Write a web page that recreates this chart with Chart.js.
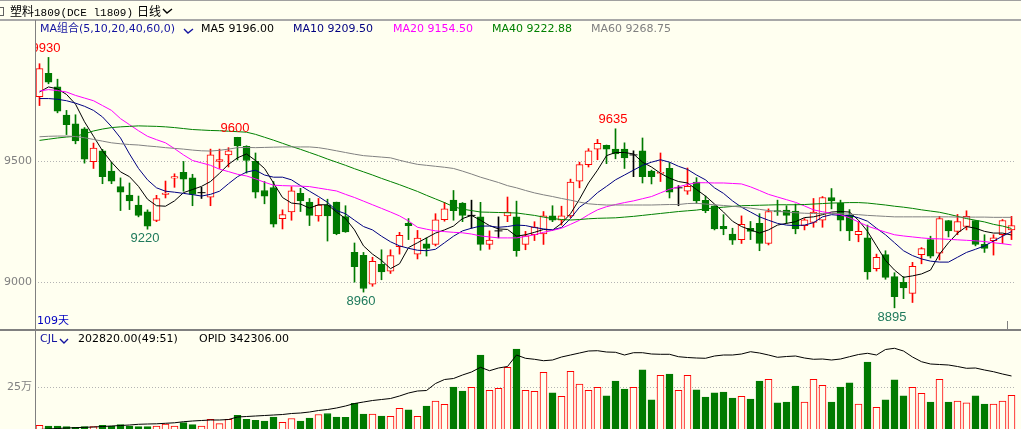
<!DOCTYPE html>
<html lang="zh-CN">
<head>
<meta charset="utf-8">
<title>塑料1809 日线</title>
<script src="https://cdn.jsdelivr.net/npm/chart.js@4.4.1/dist/chart.umd.min.js"></script>
<style>
  html, body { margin: 0; padding: 0; background: #fffff0; overflow: hidden; }
  #stage {
    position: relative; width: 1021px; height: 429px; overflow: hidden; background: #fffff0;
    font-family: 'DejaVu Sans', 'Noto Sans CJK SC', sans-serif; font-size: 11px;
  }
  #stage canvas { position: absolute; left: 0; }
  .txt { position: absolute; line-height: 14px; white-space: nowrap; }
  .rule { position: absolute; background: #808080; }
  svg.chev { position: absolute; }
</style>
</head>
<body>
<div id="stage">
  <canvas id="priceChart" width="1021" height="310" style="top:20px"></canvas>
  <canvas id="volChart" width="1021" height="101" style="top:330px"></canvas>

  <div class="rule" style="left:0;top:0;width:1021px;height:1px;background:#a0a0a0"></div>
  <div class="rule" style="left:0;top:19px;width:1021px;height:2px;background:#a8a8a8"></div>
  <div class="rule" style="left:35px;top:20px;width:1px;height:409px"></div>
  <div class="rule" style="left:0;top:329px;width:1021px;height:2px"></div>
  <div class="rule" style="left:1007px;top:321px;width:1px;height:9px"></div>
  <div class="rule" style="left:-5px;top:7px;width:7px;height:7px;background:none;border:1px solid #606060"></div>

  <!-- header -->
  <div class="txt" style="left:10px;top:4px;font-size:12px;color:#000">
    <span style="font-family:'Noto Sans CJK SC'">塑料</span><span style="font-family:'Liberation Mono';font-size:11px">1809(DCE l1809)</span>
  </div>
  <div class="txt" style="left:137px;top:4px;font-size:12px;font-family:'Noto Sans CJK SC'">日线</div>
  <svg class="chev" style="left:162px;top:8px" width="11" height="7"><polyline points="1,1 5,5 10,1" fill="none" stroke="#000" stroke-width="1.4"/></svg>

  <!-- MA legend -->
  <div class="txt" style="left:40px;top:22px;color:#1414a0">MA组合(5,10,20,40,60,0)</div>
  <svg class="chev" style="left:183px;top:28px" width="11" height="7"><polyline points="1,1 5,5 10,1" fill="none" stroke="#1414a0" stroke-width="1.4"/></svg>
  <div class="txt" style="left:201px;top:22px;color:#000">MA5 9196.00</div>
  <div class="txt" style="left:293px;top:22px;color:#000080">MA10 9209.50</div>
  <div class="txt" style="left:393px;top:22px;color:#ff00ff">MA20 9154.50</div>
  <div class="txt" style="left:492px;top:22px;color:#008000">MA40 9222.88</div>
  <div class="txt" style="left:591px;top:22px;color:#808080">MA60 9268.75</div>

  <div class="txt" style="left:37px;top:314px;color:#0000c0">109天</div>

  <!-- volume legend -->
  <div class="txt" style="left:40px;top:332px;color:#1414a0">CJL</div>
  <svg class="chev" style="left:59px;top:338px" width="10" height="6"><polyline points="1,1 5,5 9,1" fill="none" stroke="#1414a0" stroke-width="1.4"/></svg>
  <div class="txt" style="left:78px;top:332px;color:#000">202820.00(49:51)</div>
  <div class="txt" style="left:199px;top:332px;color:#000">OPID 342306.00</div>
</div>

<script>
// daily bars, oldest first
const open = [9768, 9864, 9808, 9692, 9656, 9635, 9499, 9544, 9460, 9396,
  9361, 9320, 9292, 9256, 9364, 9431, 9455, 9432, 9371, 9352,
  9500, 9527, 9600, 9563, 9500, 9380, 9392, 9263, 9291, 9368,
  9332, 9275, 9320, 9332, 9272, 9124, 9112, 8993, 9075, 9047,
  9148, 9244, 9117, 9160, 9157, 9259, 9340, 9328, 9277, 9271,
  9157, 9213, 9275, 9271, 9157, 9197, 9200, 9275, 9257, 9275,
  9419, 9487, 9551, 9567, 9551, 9551, 9527, 9544, 9460, 9451,
  9472, 9391, 9377, 9415, 9339, 9317, 9232, 9200, 9177, 9224,
  9244, 9161, 9297, 9299, 9295, 9235, 9248, 9257, 9351, 9327,
  9277, 9197, 9184, 9057, 9115, 9024, 9000, 8955, 9115, 9177,
  9121, 9256, 9211, 9231, 9256, 9157, 9173, 9197, 9217];
const high = [9904, 9930, 9840, 9711, 9693, 9640, 9576, 9550, 9497, 9432,
  9411, 9357, 9300, 9360, 9419, 9449, 9500, 9447, 9393, 9551,
  9551, 9557, 9600, 9565, 9535, 9417, 9417, 9300, 9396, 9389,
  9347, 9347, 9344, 9332, 9317, 9163, 9124, 9104, 9135, 9135,
  9207, 9264, 9215, 9184, 9284, 9331, 9380, 9330, 9340, 9331,
  9213, 9271, 9353, 9336, 9211, 9251, 9293, 9317, 9315, 9427,
  9497, 9553, 9591, 9568, 9635, 9577, 9544, 9597, 9464, 9535,
  9495, 9400, 9473, 9433, 9357, 9317, 9280, 9224, 9275, 9252,
  9284, 9304, 9340, 9317, 9324, 9264, 9347, 9355, 9388, 9340,
  9301, 9251, 9237, 9117, 9131, 9040, 9024, 9083, 9144, 9191,
  9273, 9256, 9281, 9296, 9256, 9197, 9197, 9260, 9273];
const low = [9731, 9821, 9701, 9611, 9573, 9493, 9471, 9408, 9408, 9297,
  9301, 9271, 9220, 9251, 9349, 9393, 9377, 9317, 9347, 9317,
  9471, 9477, 9506, 9452, 9349, 9325, 9229, 9221, 9257, 9293,
  9235, 9253, 9171, 9197, 9207, 9001, 8960, 8984, 9011, 9037,
  9117, 9177, 9097, 9109, 9151, 9253, 9257, 9251, 9224, 9133,
  9137, 9184, 9251, 9108, 9135, 9173, 9157, 9251, 9237, 9268,
  9391, 9477, 9507, 9491, 9511, 9471, 9437, 9411, 9407, 9417,
  9349, 9317, 9364, 9327, 9288, 9217, 9197, 9157, 9161, 9177,
  9131, 9155, 9277, 9244, 9201, 9217, 9228, 9228, 9304, 9213,
  9173, 9168, 9013, 9047, 9013, 8895, 8933, 8917, 9077, 9101,
  9093, 9188, 9197, 9217, 9151, 9124, 9113, 9161, 9177];
const close = [9884, 9828, 9708, 9652, 9585, 9509, 9555, 9437, 9419, 9373,
  9337, 9277, 9233, 9347, 9369, 9437, 9427, 9364, 9371, 9527,
  9508, 9544, 9564, 9504, 9373, 9357, 9241, 9280, 9379, 9337,
  9277, 9320, 9275, 9201, 9209, 9065, 8975, 9087, 9043, 9111,
  9195, 9235, 9183, 9141, 9259, 9304, 9297, 9277, 9277, 9157,
  9175, 9213, 9291, 9131, 9193, 9229, 9275, 9257, 9275, 9415,
  9487, 9544, 9575, 9551, 9531, 9515, 9527, 9437, 9437, 9455,
  9373, 9391, 9397, 9337, 9297, 9221, 9221, 9175, 9240, 9211,
  9161, 9293, 9291, 9277, 9221, 9259, 9291, 9351, 9337, 9257,
  9213, 9211, 9043, 9104, 9021, 8941, 8977, 9067, 9140, 9108,
  9264, 9213, 9251, 9273, 9157, 9141, 9184, 9256, 9235];

// moving averages as drawn
const ma5 = [9787, 9808, 9800, 9777, 9737, 9664, 9604, 9544, 9497, 9457,
  9437, 9397, 9344, 9317, 9315, 9337, 9371, 9384, 9397, 9417,
  9451, 9488, 9515, 9531, 9504, 9471, 9411, 9351, 9328, 9324,
  9307, 9321, 9321, 9291, 9264, 9217, 9151, 9117, 9091, 9057,
  9077, 9144, 9164, 9184, 9204, 9217, 9233, 9264, 9277, 9257,
  9235, 9221, 9219, 9191, 9197, 9207, 9219, 9216, 9244, 9284,
  9344, 9411, 9464, 9524, 9537, 9537, 9531, 9497, 9477, 9451,
  9431, 9417, 9411, 9384, 9357, 9324, 9291, 9253, 9231, 9217,
  9204, 9217, 9237, 9244, 9251, 9268, 9271, 9280, 9291, 9293,
  9291, 9257, 9211, 9151, 9091, 9051, 9021, 9027, 9035, 9051,
  9117, 9164, 9204, 9231, 9224, 9211, 9204, 9204, 9196];
const ma10 = [9760, 9760, 9757, 9751, 9741, 9728, 9711, 9684, 9644, 9597,
  9531, 9471, 9424, 9391, 9377, 9373, 9368, 9363, 9357, 9364,
  9377, 9408, 9437, 9456, 9464, 9444, 9435, 9435, 9424, 9400,
  9377, 9355, 9331, 9297, 9284, 9257, 9231, 9217, 9191, 9168,
  9151, 9141, 9133, 9131, 9137, 9164, 9191, 9213, 9224, 9233,
  9233, 9228, 9231, 9237, 9235, 9227, 9221, 9217, 9227, 9264,
  9311, 9337, 9371, 9397, 9424, 9444, 9464, 9484, 9497, 9507,
  9497, 9480, 9467, 9444, 9424, 9391, 9368, 9337, 9311, 9291,
  9271, 9257, 9244, 9237, 9235, 9237, 9247, 9271, 9280, 9277,
  9277, 9267, 9253, 9224, 9197, 9164, 9131, 9111, 9097, 9088,
  9084, 9084, 9104, 9124, 9137, 9151, 9171, 9191, 9210];
const ma20 = [9791, 9797, 9793, 9787, 9773, 9762, 9751, 9731, 9711, 9677,
  9652, 9627, 9604, 9590, 9577, 9553, 9527, 9504, 9494, 9484,
  9468, 9458, 9447, 9440, 9428, 9414, 9402, 9400, 9399, 9398,
  9396, 9390, 9384, 9378, 9364, 9351, 9336, 9321, 9306, 9291,
  9275, 9254, 9228, 9220, 9213, 9210, 9207, 9205, 9200, 9192,
  9188, 9184, 9184, 9184, 9190, 9197, 9207, 9215, 9224, 9240,
  9257, 9280, 9300, 9313, 9322, 9330, 9337, 9346, 9355, 9370,
  9385, 9395, 9405, 9412, 9412, 9411, 9411, 9409, 9407, 9395,
  9380, 9364, 9353, 9342, 9331, 9316, 9300, 9292, 9286, 9280,
  9267, 9250, 9233, 9220, 9208, 9197, 9192, 9188, 9184, 9181,
  9180, 9178, 9176, 9174, 9172, 9169, 9164, 9160, 9155];
const ma40 = [9587, 9592, 9597, 9601, 9604, 9614, 9626, 9634, 9640, 9643,
  9645, 9647, 9646, 9645, 9643, 9640, 9636, 9632, 9630, 9628,
  9627, 9625, 9623, 9621, 9612, 9600, 9588, 9575, 9562, 9550,
  9537, 9524, 9510, 9497, 9484, 9470, 9457, 9444, 9430, 9417,
  9404, 9390, 9376, 9360, 9345, 9330, 9313, 9303, 9297, 9291,
  9290, 9289, 9288, 9287, 9282, 9277, 9270, 9264, 9260, 9258,
  9260, 9263, 9265, 9266, 9267, 9270, 9273, 9277, 9281, 9285,
  9289, 9293, 9296, 9299, 9304, 9308, 9311, 9314, 9317, 9318,
  9319, 9320, 9321, 9321, 9321, 9322, 9324, 9326, 9328, 9329,
  9330, 9330, 9328, 9324, 9320, 9315, 9311, 9306, 9300, 9295,
  9290, 9282, 9273, 9264, 9257, 9250, 9240, 9233, 9223];
const ma60 = [9602, 9604, 9605, 9605, 9603, 9598, 9591, 9584, 9577, 9573,
  9570, 9568, 9564, 9561, 9557, 9554, 9551, 9547, 9544, 9543,
  9546, 9551, 9557, 9558, 9557, 9558, 9559, 9560, 9560, 9560,
  9560, 9557, 9551, 9544, 9537, 9530, 9524, 9521, 9518, 9515,
  9505, 9496, 9488, 9484, 9480, 9476, 9471, 9460, 9448, 9435,
  9424, 9413, 9400, 9391, 9380, 9370, 9362, 9355, 9347, 9340,
  9332, 9325, 9322, 9320, 9320, 9320, 9320, 9320, 9320, 9321,
  9322, 9322, 9326, 9327, 9324, 9321, 9318, 9315, 9311, 9307,
  9302, 9297, 9294, 9291, 9288, 9286, 9285, 9285, 9285, 9284,
  9282, 9280, 9277, 9275, 9273, 9271, 9271, 9271, 9271, 9271,
  9271, 9271, 9270, 9270, 9270, 9270, 9269, 9269, 9269];

// volume (CJL) and open interest (OPID)
const vol = [32300, 28500, 28500, 24700, 20900, 24700, 24700, 32000, 28500, 36000,
  28500, 24700, 24700, 28500, 40000, 28500, 47500, 36000, 28500, 66500,
  41800, 66500, 89000, 66000, 61000, 56000, 80000, 49000, 71000, 56000,
  73000, 94000, 100000, 80000, 78000, 158000, 97000, 97000, 85500, 83600,
  129000, 120000, 83600, 142500, 171000, 152000, 251000, 228000, 249000, 433000,
  232000, 243000, 363000, 467000, 232000, 226000, 334000, 217000, 198000, 340000,
  268000, 232000, 249000, 200000, 285000, 239000, 249000, 348000, 177000, 317000,
  325000, 232000, 317000, 234000, 194000, 217000, 222000, 188000, 198000, 182000,
  285000, 295000, 160000, 165000, 256000, 165000, 295000, 260000, 165000, 251000,
  274000, 154000, 393000, 135000, 177000, 291000, 200000, 249000, 215000, 165000,
  295000, 165000, 171000, 160000, 200000, 154000, 154000, 171000, 202820];
const opid = [160400, 162100, 163800, 165500, 166500, 167900, 168900, 170600, 172300, 174000,
  175700, 178100, 179100, 179800, 181500, 183200, 186900, 189300, 191000, 192700,
  192700, 194400, 202900, 204600, 206300, 208000, 209700, 211400, 214800, 216500,
  219900, 225000, 228400, 233500, 240300, 248800, 253900, 259000, 262400, 265800,
  274300, 284500, 291300, 293000, 316800, 330400, 333800, 345700, 355900, 371900,
  360300, 369500, 374600, 413700, 402500, 399100, 394300, 396700, 406900, 413700,
  420500, 427300, 428300, 423900, 422900, 413700, 421500, 421500, 417100, 416100,
  416100, 407900, 405200, 403500, 402500, 410300, 413700, 413700, 417100, 424900,
  420500, 413700, 405900, 408600, 410300, 403500, 399100, 400100, 396700, 400100,
  407900, 415400, 419500, 413700, 432400, 436500, 427300, 406900, 390900, 383100,
  381400, 379700, 374600, 368500, 369500, 362700, 356900, 349100, 342306];

const priceTicks = [9000, 9500];
const volTicks = [250000];
const volTickLabels = ['25万'];
const peakIdx = [1, 22, 64];     // labelled highs
const troughIdx = [12, 36, 95];  // labelled lows

const days = open.map((_, i) => String(i + 1));

const UP = '#ff0000';
const DOWN = '#007a00';
const FLAT = '#000000';
const BG = '#fffff0';
const FONT = "'DejaVu Sans', 'Noto Sans CJK SC', sans-serif";

const candleColor = close.map((c, i) => (c > open[i] ? UP : c < open[i] ? DOWN : FLAT));
const bodyFill = candleColor.map((c) => (c === DOWN ? DOWN : BG));
const bodyData = close.map((c, i) => (c === open[i] ? null : [open[i], c]));
const wickData = low.map((l, i) => [l, high[i]]);
const dojiData = close.map((c, i) => (c === open[i] ? c : null));
const volColor = close.map((c, i) => (c >= open[i] ? UP : DOWN));
const volFill = volColor.map((c) => (c === DOWN ? DOWN : BG));

// fixed axis width, no label padding eating into the plot
const fixedAxis = (w) => (scale) => {
  scale.width = w;
  scale.paddingTop = 0;
  scale.paddingBottom = 0;
};

const hiLoLabels = {
  id: 'hiLoLabels',
  afterDatasetsDraw(chart) {
    const { ctx, chartArea: a, scales } = chart;
    ctx.save();
    ctx.beginPath();
    ctx.rect(a.left, a.top, a.right - a.left, a.bottom - a.top);
    ctx.clip();
    ctx.font = '13px "Liberation Sans", sans-serif';
    ctx.textAlign = 'center';
    ctx.textBaseline = 'middle';
    ctx.fillStyle = '#ff0000';
    peakIdx.forEach((i) => {
      ctx.fillText(String(high[i]), scales.x.getPixelForValue(i) - 2.5, scales.y.getPixelForValue(high[i]) - 9);
    });
    ctx.fillStyle = '#1f7a5c';
    troughIdx.forEach((i) => {
      ctx.fillText(String(low[i]), scales.x.getPixelForValue(i) - 2.5, scales.y.getPixelForValue(low[i]) + 9.5);
    });
    ctx.restore();
  },
};

const maLine = (label, data, color) => ({
  type: 'line', label, data, borderColor: color, borderWidth: 1,
  pointRadius: 0, tension: 0, order: 1,
});

const common = {
  responsive: false,
  animation: false,
  events: [],
  layout: { padding: { left: 0, right: 5, top: 0, bottom: 0 } },
  plugins: { legend: { display: false }, tooltip: { enabled: false } },
};

new Chart(document.getElementById('priceChart'), {
  type: 'bar',
  data: {
    labels: days,
    datasets: [
      maLine('MA60', ma60, '#808080'),
      maLine('MA40', ma40, '#008000'),
      maLine('MA20', ma20, '#ff00ff'),
      maLine('MA10', ma10, '#000080'),
      maLine('MA5', ma5, '#000000'),
      {
        type: 'line', label: 'doji', data: dojiData, showLine: false,
        pointStyle: 'line', pointRadius: 4, borderColor: FLAT,
        pointBorderColor: FLAT, pointBorderWidth: 1, order: 2,
      },
      {
        label: 'body', data: bodyData, backgroundColor: bodyFill, borderColor: candleColor,
        borderWidth: 1, borderSkipped: false, barThickness: 7, grouped: false, order: 3,
      },
      {
        label: 'wick', data: wickData, backgroundColor: candleColor,
        barThickness: 1, grouped: false, order: 4,
      },
    ],
  },
  options: {
    ...common,
    scales: {
      x: { display: false, offset: true },
      y: {
        min: 8824,
        max: 10064,
        afterFit: fixedAxis(35),
        afterBuildTicks: (s) => { s.ticks = priceTicks.map((v) => ({ value: v })); },
        ticks: {
          color: '#808080', font: { family: FONT, size: 11 }, padding: 3, autoSkip: false,
          callback: (v) => String(v),
        },
        grid: { color: '#b4b4b4', drawTicks: false, lineWidth: 1 },
        border: { display: false, dash: [1, 2] },
      },
    },
  },
  plugins: [hiLoLabels],
});

new Chart(document.getElementById('volChart'), {
  type: 'bar',
  data: {
    labels: days,
    datasets: [
      {
        type: 'line', label: 'OPID', data: opid, yAxisID: 'y2', borderColor: '#000000',
        borderWidth: 1, pointRadius: 0, tension: 0, order: 1,
      },
      {
        label: 'CJL', data: vol, backgroundColor: volFill, borderColor: volColor,
        borderWidth: 1, borderSkipped: false, barThickness: 7, order: 2,
      },
    ],
  },
  options: {
    ...common,
    scales: {
      x: { display: false, offset: true },
      y: {
        min: 0,
        max: 575700,
        afterFit: fixedAxis(35),
        afterBuildTicks: (s) => { s.ticks = volTicks.map((v) => ({ value: v })); },
        ticks: {
          color: '#808080', font: { family: FONT, size: 11 }, padding: 3, autoSkip: false,
          callback: (v, i) => volTickLabels[i],
        },
        grid: { color: '#b4b4b4', drawTicks: false, lineWidth: 1 },
        border: { display: false, dash: [1, 2] },
      },
      y2: { display: false, min: 155300, max: 498700 },
    },
  },
});
</script>
</body>
</html>
